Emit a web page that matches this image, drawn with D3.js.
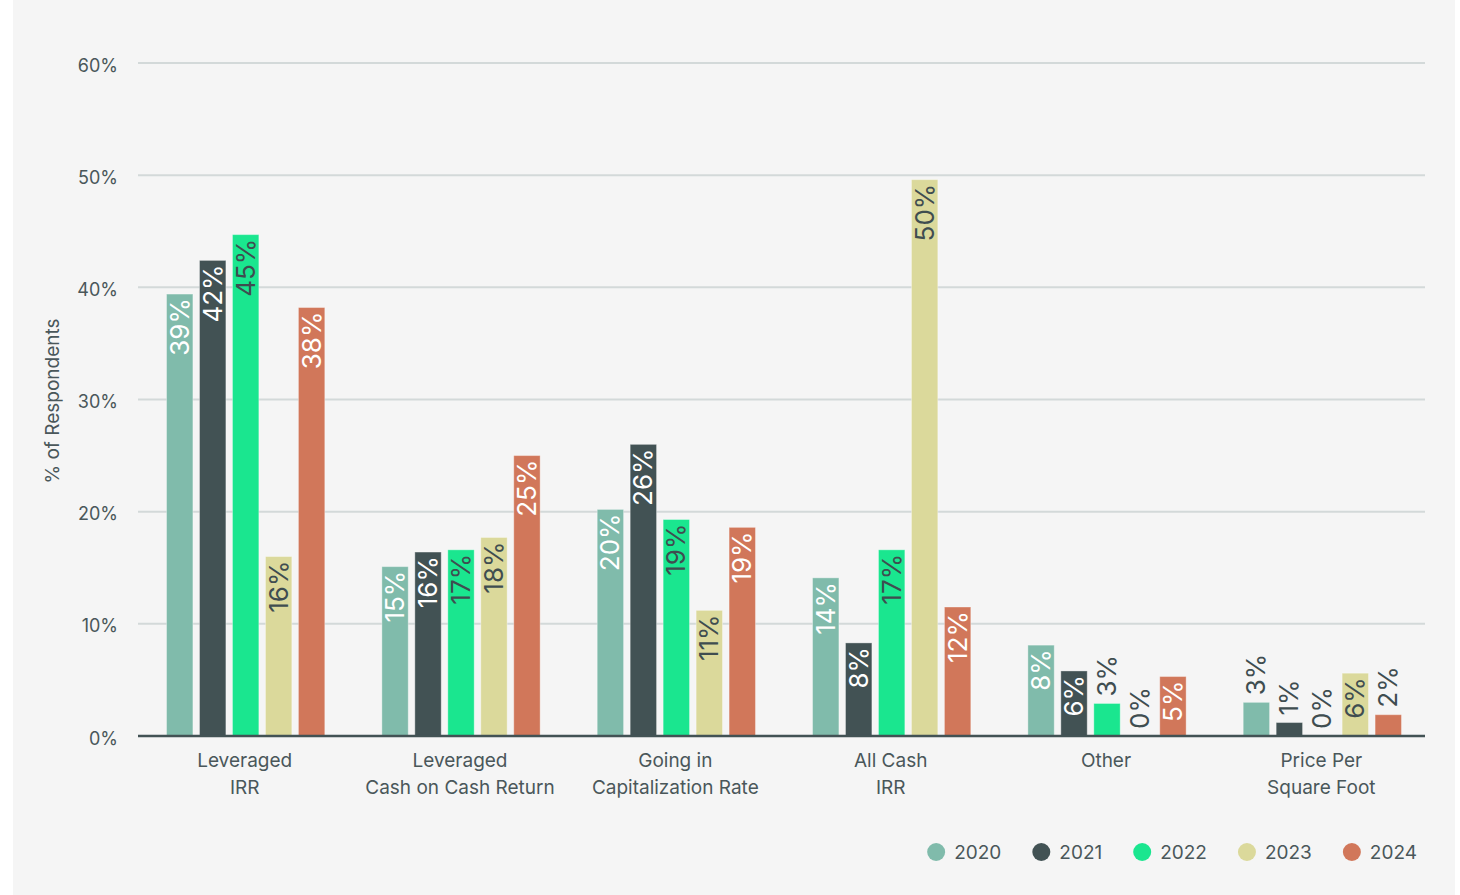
<!DOCTYPE html>
<html lang="en">
<head>
<meta charset="utf-8" />
<title>Return metrics by year</title>
<style>
  body { margin: 0; background: #fff; }
  svg text { font-family: Inter, "Noto Sans", sans-serif; fill: #4a575a; }
</style>
</head>
<body>
<div id="chart"></div>
<script src="https://cdnjs.cloudflare.com/ajax/libs/d3/7.4.4/d3.min.js"></script>
<script>
// categories (two lines each)
var categories = [
  ["Leveraged", "IRR"],
  ["Leveraged", "Cash on Cash Return"],
  ["Going in", "Capitalization Rate"],
  ["All Cash", "IRR"],
  ["Other", ""],
  ["Price Per", "Square Foot"]
];
var years = ["2020", "2021", "2022", "2023", "2024"];
var colors = ["#80bbab", "#425254", "#1ae68f", "#dbd99b", "#d1775a"];

// % of respondents, one array per year, in category order
var v2020 = [39.4, 15.1, 20.2, 14.1, 8.1, 3.0];
var v2021 = [42.4, 16.4, 26.0, 8.3, 5.8, 1.2];
var v2022 = [44.7, 16.6, 19.3, 16.6, 2.9, 0];
var v2023 = [16.0, 17.7, 11.2, 49.6, 0, 5.6];
var v2024 = [38.2, 25.0, 18.6, 11.5, 5.3, 1.9];
var yTicks = [0, 10, 20, 30, 40, 50, 60];

var series = [v2020, v2021, v2022, v2023, v2024];
// which bar colours take dark text inside
var darkText = [false, false, true, true, false];

var W = 1460, H = 895;
var margin = { left: 138, right: 35, top: 63, bottom: 159 };

var svg = d3.select("#chart").append("svg")
  .attr("width", W).attr("height", H);

svg.append("rect")
  .attr("x", 13).attr("y", 0)
  .attr("width", 1442).attr("height", H)
  .attr("fill", "#f5f5f5");

var x0 = d3.scaleBand()
  .domain(d3.range(categories.length))
  .range([margin.left, W - margin.right + 5])
  .paddingInner(0.265)
  .paddingOuter(0.1325);

var x1 = d3.scaleBand()
  .domain(d3.range(years.length))
  .range([0, x0.bandwidth()])
  .paddingInner(0.2)
  .paddingOuter(0);

var y = d3.scaleLinear()
  .domain([0, 60])
  .range([H - margin.bottom, margin.top]);

// grid
svg.append("g").selectAll("line")
  .data(yTicks.filter(function (t) { return t > 0; }))
  .enter().append("line")
  .attr("x1", margin.left).attr("x2", W - margin.right)
  .attr("y1", function (d) { return y(d); })
  .attr("y2", function (d) { return y(d); })
  .attr("stroke", "#d3d9d9").attr("stroke-width", 2);

// y tick labels
svg.append("g").selectAll("text")
  .data(yTicks)
  .enter().append("text")
  .attr("x", 118)
  .attr("y", function (d) { return y(d); })
  .attr("dy", "0.48em")
  .attr("text-anchor", "end")
  .attr("font-size", 18)
  .text(function (d) { return d + "%"; });

// y title
svg.append("text")
  .attr("transform", "translate(59," + 401 + ") rotate(-90)")
  .attr("text-anchor", "middle")
  .attr("font-size", 19)
  .text("% of Respondents");

// bars
var groups = svg.append("g").selectAll("g")
  .data(series)
  .enter().append("g");

groups.each(function (vals, si) {
  var g = d3.select(this);
  vals.forEach(function (v, ci) {
    var bx = x0(ci) + x1(si);
    var by = y(v);
    var bh = y(0) - y(v);
    if (bh > 0) {
      g.append("rect")
        .attr("x", bx).attr("y", by)
        .attr("width", x1.bandwidth()).attr("height", bh)
        .attr("fill", colors[si])
        .attr("stroke", "#ffffff").attr("stroke-opacity", 0.35).attr("stroke-width", 1);
    }
    var label = Math.round(v) + "%";
    var t = g.append("text")
      .attr("font-size", 26)
      .attr("dy", "0.35em")
      .text(label);
    var tw = t.node().getComputedTextLength();
    var cx = bx + x1.bandwidth() / 2;
    if (bh >= tw + 10) {
      t.attr("transform", "translate(" + cx + "," + (by + 4) + ") rotate(-90)")
        .attr("text-anchor", "end")
        .style("fill", darkText[si] ? "#3f4d50" : "#ffffff");
    } else {
      t.attr("transform", "translate(" + cx + "," + (by - 7) + ") rotate(-90)")
        .attr("text-anchor", "start")
        .style("fill", "#3f4d50");
    }
  });
});

// baseline
svg.append("line")
  .attr("x1", margin.left).attr("x2", W - margin.right)
  .attr("y1", y(0)).attr("y2", y(0))
  .attr("stroke", "#425254").attr("stroke-width", 2.5);

// category labels
function catX(d, i) { return x0(i) + x0.bandwidth() / 2 - 1; }
var cat = svg.append("g").selectAll("text")
  .data(categories)
  .enter().append("text")
  .attr("text-anchor", "middle")
  .attr("font-size", 19)
  .attr("x", catX);
cat.append("tspan")
  .attr("x", catX)
  .attr("y", 767)
  .text(function (d) { return d[0]; });
cat.append("tspan")
  .attr("x", catX)
  .attr("y", 794)
  .text(function (d) { return d[1]; });

// legend, right-aligned
var legend = svg.append("g");
var items = years.map(function (yr, i) {
  var it = legend.append("g");
  it.append("circle").attr("r", 9).attr("cx", 9).attr("cy", 0).attr("fill", colors[i]);
  var tx = it.append("text").attr("x", 27).attr("y", 0).attr("dy", "0.36em")
    .attr("font-size", 19).text(yr);
  return { g: it, w: 27 + tx.node().getComputedTextLength() };
});
var lx = 1417;
for (var i = items.length - 1; i >= 0; i--) {
  lx -= items[i].w;
  items[i].g.attr("transform", "translate(" + lx + ",852)");
  lx -= 31;
}
</script>
</body>
</html>
